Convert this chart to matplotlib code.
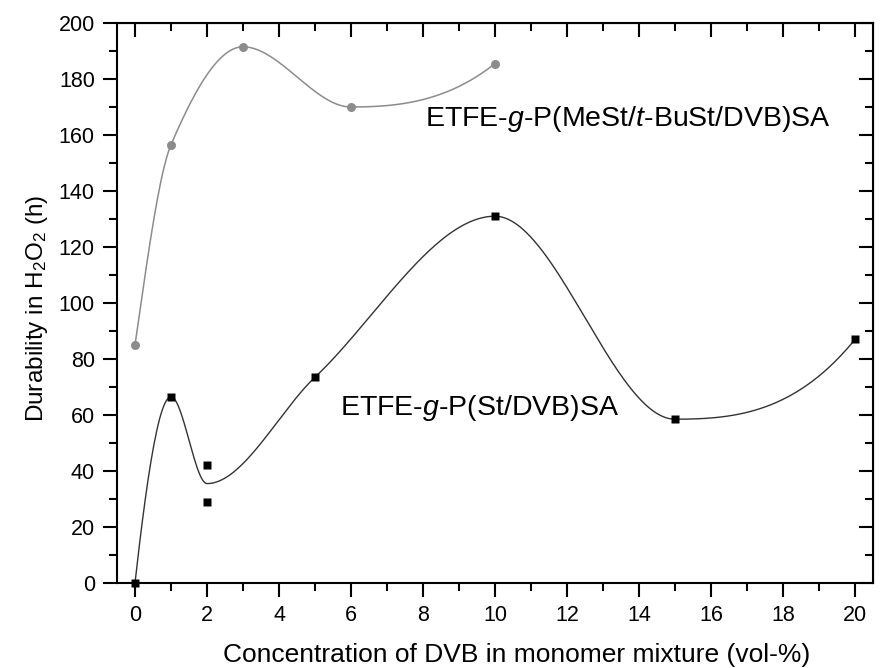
import numpy as np
import matplotlib
matplotlib.use('Agg')
from matplotlib import pyplot as plt
from matplotlib.ticker import MultipleLocator

# MeSt/t-BuSt series (grey circles)
mest_x = [0, 1, 3, 6, 10]
mest_y = [85, 156.5, 191.5, 170, 185.5]

# St/DVB series (black squares), two samples at 2 %
st_x = [0, 1, 2, 2, 5, 10, 15, 20]
st_y = [0, 66.5, 42, 29, 73.5, 131, 58.5, 87]


def pchip(x, y, n=500):
    # monotone cubic (Fritsch-Carlson), duplicate x values are averaged
    x = np.asarray(x, float)
    y = np.asarray(y, float)
    ux = np.unique(x)
    uy = np.array([y[x == v].mean() for v in ux])
    h = np.diff(ux)
    d = np.diff(uy) / h
    k = len(ux)
    m = np.zeros(k)
    for i in range(1, k - 1):
        if d[i - 1] * d[i] > 0:
            w1 = 2 * h[i] + h[i - 1]
            w2 = h[i] + 2 * h[i - 1]
            m[i] = (w1 + w2) / (w1 / d[i - 1] + w2 / d[i])
    # end slopes
    for j, (hh0, hh1, d0, d1) in ((0, (h[0], h[1], d[0], d[1])),
                                  (k - 1, (h[-1], h[-2], d[-1], d[-2]))):
        s = ((2 * hh0 + hh1) * d0 - hh0 * d1) / (hh0 + hh1)
        if np.sign(s) != np.sign(d0):
            s = 0
        elif np.sign(d0) != np.sign(d1) and abs(s) > abs(3 * d0):
            s = 3 * d0
        m[j] = s
    xs = np.linspace(ux[0], ux[-1], n)
    idx = np.clip(np.searchsorted(ux, xs) - 1, 0, k - 2)
    t = (xs - ux[idx]) / h[idx]
    h00 = 2 * t ** 3 - 3 * t ** 2 + 1
    h10 = t ** 3 - 2 * t ** 2 + t
    h01 = -2 * t ** 3 + 3 * t ** 2
    h11 = t ** 3 - t ** 2
    ys = (h00 * uy[idx] + h10 * h[idx] * m[idx]
          + h01 * uy[idx + 1] + h11 * h[idx] * m[idx + 1])
    return xs, ys


plt.rcParams['font.family'] = ['Liberation Sans', 'DejaVu Sans']
plt.rcParams['mathtext.fontset'] = 'custom'
plt.rcParams['mathtext.rm'] = 'Liberation Sans'
plt.rcParams['mathtext.it'] = 'Liberation Sans:italic'

fig = plt.figure(figsize=(8.82, 6.68), dpi=100)
ax = fig.add_axes([117 / 882, 1 - 583 / 668, (873 - 117) / 882, (583 - 23) / 668])

grey = '#8c8c8c'
sx, sy = pchip(mest_x, mest_y)
ax.plot(sx, sy, color=grey, lw=1.1)
ax.plot(mest_x, mest_y, 'o', color=grey, ms=6.5, mec='none')

sx, sy = pchip(st_x, st_y)
ax.plot(sx, sy, color='#333333', lw=1.0)
ax.plot(st_x, st_y, 's', color='black', ms=5.5, mec='none', clip_on=False)

ax.set_xlim(-0.5, 20.5)
ax.set_ylim(0, 200)
ax.xaxis.set_major_locator(MultipleLocator(2))
ax.xaxis.set_minor_locator(MultipleLocator(1))
ax.yaxis.set_major_locator(MultipleLocator(20))
ax.yaxis.set_minor_locator(MultipleLocator(10))

for s in ax.spines.values():
    s.set_linewidth(1.5)
ax.tick_params(which='both', direction='out', width=1.5, labelsize=15.5)
ax.tick_params(which='major', length=10, pad=6)
ax.tick_params(which='minor', length=6)

# mirrored ticks pointing inward on top and right
top = ax.secondary_xaxis('top')
top.set_xticks(np.arange(0, 21, 2))
top.xaxis.set_minor_locator(MultipleLocator(1))
top.tick_params(which='both', direction='in', width=1.5, labeltop=False)
top.tick_params(which='major', length=10)
top.tick_params(which='minor', length=6)
right = ax.secondary_yaxis('right')
right.set_yticks(np.arange(0, 201, 20))
right.yaxis.set_minor_locator(MultipleLocator(10))
right.tick_params(which='both', direction='in', width=1.5, labelright=False)
right.tick_params(which='major', length=10)
right.tick_params(which='minor', length=6)

ax.set_xlabel('Concentration of DVB in monomer mixture (vol-%)', fontsize=19)
ax.xaxis.set_label_coords(0.528, -0.108)
ax.set_ylabel('Durability in H$_2$O$_2$ (h)', fontsize=17.5)
ax.yaxis.set_label_coords(-0.088, 0.49)

ax.text(8.05, 165.7, 'ETFE-$\\mathit{g}$-P(MeSt/$\\mathit{t}$-BuSt/DVB)SA', fontsize=20.5, va='center')
ax.text(5.7, 62.5, 'ETFE-$\\mathit{g}$-P(St/DVB)SA', fontsize=20.5, va='center')

fig.savefig('out.png', dpi=100)
